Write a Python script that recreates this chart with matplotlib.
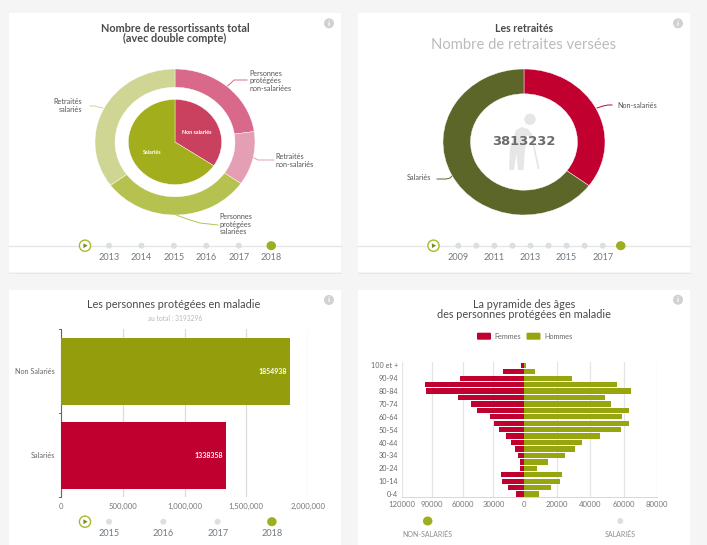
import matplotlib
matplotlib.use("Agg")
import matplotlib.pyplot as plt
from matplotlib.patches import Rectangle, Circle, FancyBboxPatch, Polygon, Ellipse

plt.rcParams['font.family'] = ['Lato', 'DejaVu Sans']

W, H = 707, 545

# donut "ressortissants"
outer_labels = ['Personnes\nprotégées\nnon-salariées', 'Retraités\nnon-salariés',
                'Personnes\nprotégées\nsalariées', 'Retraités\nsalariés']
outer_values = [22.7, 11.9, 30.3, 35.1]
outer_colors = ['#D8698A', '#E59FB5', '#B6C24F', '#CFD693']
inner_labels = ['Non salariés', 'Salariés']
inner_values = [34.4, 65.6]
inner_colors = ['#C9415F', '#A3AE1C']

# donut retraites
retraites_labels = ['Non-salariés', 'Salariés']
retraites_values = [1342000, 2471232]
retraites_colors = ['#C2002F', '#5C6628']
retraites_total = 3813232

# barres maladie
maladie_labels = ['Salariés', 'Non Salariés']
maladie_values = [1338358, 1854938]
maladie_colors = ['#C0002F', '#949E0C']
maladie_ticks = [0, 500000, 1000000, 1500000, 2000000]

# pyramide, du haut vers le bas
ages = ['100 et +', '95-99', '90-94', '85-89', '80-84', '75-79', '70-74', '65-69', '60-64',
        '55-59', '50-54', '45-49', '40-44', '35-39', '30-34', '25-29', '20-24', '15-19',
        '10-14', '5-9', '0-4']
femmes = [2900, 20300, 62800, 97100, 96100, 64400, 52000, 46400, 33000, 29800, 24500,
          17700, 12400, 9200, 5900, 3600, 3900, 22600, 21300, 15700, 8200]
hommes = [1000, 6600, 28700, 55800, 64800, 48900, 52500, 63600, 59200, 63200, 58600,
          46100, 34700, 30900, 24700, 14600, 7600, 23100, 21900, 16400, 8800]

years_1 = [2013, 2014, 2015, 2016, 2017, 2018]
years_2 = list(range(2009, 2019))
years_3 = [2015, 2016, 2017, 2018]

TEXT = '#4a4a4a'
GREY = '#8a8f94'
GREEN = '#9DAE1E'


def px_axes(fig, x0, y0, x1, y1):
    # axes placed with pixel coordinates, y going down
    return fig.add_axes([x0 / W, 1 - y1 / H, (x1 - x0) / W, (y1 - y0) / H])


def donut(ax, values, colors, radius, width=None):
    props = {'linewidth': 0.3, 'edgecolor': 'white'}
    if width:
        props['width'] = width
    ax.pie(values, colors=colors, radius=radius, startangle=90, counterclock=False,
           wedgeprops=props)
    ax.set_aspect('auto')
    ax.set_xlim(-1, 1)
    ax.set_ylim(-1, 1)


def timeline(bg, x_play, xs, y, labels, label_y, line=None):
    if line:
        bg.plot(line, [y, y], color='#e3e5e6', lw=0.9, zorder=2)
    bg.add_patch(Circle((x_play, y), 5.6, fc='white', ec='#a9ba2c', lw=1.0, zorder=3))
    bg.add_patch(Polygon([(x_play - 1.6, y - 2.4), (x_play - 1.6, y + 2.4), (x_play + 2.6, y)],
                         fc='#7d8a1a', ec='none', zorder=4))
    for i, x in enumerate(xs):
        last = i == len(xs) - 1
        bg.add_patch(Ellipse((x, y), 9.5 if last else 6, 9 if last else 6,
                             fc=GREEN if last else '#dcdfe0', ec='none', zorder=3))
    for x, lab in labels:
        bg.text(x, label_y, str(lab), ha='center', va='center', fontsize=6.6, color='#6f7a82', zorder=4)


def info(bg, x, y):
    bg.add_patch(Circle((x, y), 5, fc='#cfd1d2', ec='none', zorder=3))
    bg.text(x, y, 'i', ha='center', va='center', fontsize=6, fontweight='bold', color='white', zorder=4)


fig = plt.figure(figsize=(W / 100, H / 100), dpi=100, facecolor='#F5F5F5')

# couche de fond : cartes, titres, frises
bg = fig.add_axes([0, 0, 1, 1])
bg.set_xlim(0, W)
bg.set_ylim(H, 0)
bg.axis('off')

for x, y, w, h in [(9, 13, 332, 259), (358, 13, 332, 259), (9, 290, 332, 255), (358, 290, 332, 255)]:
    bg.add_patch(Rectangle((x, y), w, h, fc='white', ec='none', zorder=1))
bg.plot([9, 341], [272.5, 272.5], color='#e6e8e9', lw=0.7, zorder=1)
bg.plot([358, 690], [272.5, 272.5], color='#e6e8e9', lw=0.7, zorder=1)

for x, y in [(329, 23.3), (678, 23.3), (329, 300), (678, 299.7)]:
    info(bg, x, y)

# titres
bg.text(175, 28, 'Nombre de ressortissants total', ha='center', va='center', fontsize=7.8,
        fontweight='bold', color=TEXT, zorder=4)
bg.text(175, 38.3, '(avec double compte)', ha='center', va='center', fontsize=7.8,
        fontweight='bold', color=TEXT, zorder=4)
bg.text(524, 28, 'Les retraités', ha='center', va='center', fontsize=7.6, fontweight='bold', color=TEXT, zorder=4)
bg.text(524, 45, 'Nombre de retraites versées', ha='center', va='center', fontsize=10.6, color='#b9bcbd', zorder=4)
bg.text(174, 305, 'Les personnes protégées en maladie', ha='center', va='center', fontsize=7.8,
        color=TEXT, zorder=4)
bg.text(175, 318.7, 'au total : 3193296', ha='center', va='center', fontsize=4.8, color='#b5b8b9', zorder=4)
bg.text(524, 305, 'La pyramide des âges', ha='center', va='center', fontsize=7.8, color=TEXT, zorder=4)
bg.text(524, 314.5, 'des personnes protégées en maladie', ha='center', va='center', fontsize=7.8,
        color=TEXT, zorder=4)

# frises
timeline(bg, 85, [109 + i * 32.45 for i in range(6)], 245.7,
         [(109 + i * 32.45, y) for i, y in enumerate(years_1)], 257, line=(9, 341))
xs2 = [458.3 + i * 18.05 for i in range(10)]
timeline(bg, 433.5, xs2, 245.7, [(xs2[i], years_2[i]) for i in range(0, 9, 2)], 257, line=(358, 690))
xs3 = [109 + i * 54.3 for i in range(4)]
timeline(bg, 85, xs3, 521.7, list(zip(xs3, years_3)), 533)

# donut 1
ax1 = px_axes(fig, 95, 69, 255, 215)
donut(ax1, outer_values, outer_colors, 1, width=0.25)
donut(ax1, inner_values, inner_colors, 0.583)
ax1.text(0.27, 0.135, inner_labels[0], ha='center', va='center', fontsize=3.9, fontweight='bold', color='white')
ax1.text(-0.28, -0.14, inner_labels[1], ha='center', va='center', fontsize=3.9, fontweight='bold', color='white')

# etiquettes et traits du donut 1
label_pos = [(249, 81, 'left'), (275, 160.5, 'left'), (219.5, 224, 'left'), (82, 105.5, 'right')]
leaders = [([224, 231, 234, 247], [89, 83, 80, 80], '#D8698A'),
           ([252, 258, 262, 274], [157, 160, 160, 160], '#E59FB5'),
           ([176, 190, 200, 218], [215, 220, 223, 225], '#B6C24F'),
           ([90, 95, 98, 103], [106, 106, 107, 108], '#CFD693')]
for (x, y, ha), lab in zip(label_pos, outer_labels):
    bg.text(x, y, lab, ha=ha, va='center', fontsize=5.2, linespacing=1.05, color='#555', zorder=4)
for xs, ys, c in leaders:
    bg.plot(xs, ys, color=c, lw=0.7, zorder=2)

# donut 2
ax2 = px_axes(fig, 443, 69, 605, 215)
donut(ax2, retraites_values, retraites_colors, 1, width=0.34)
bg.plot([597, 603, 608, 612], [108, 106, 105, 105], color='#C2002F', lw=0.7, zorder=2)
bg.plot([437, 446, 450, 453], [179, 179, 178, 175], color='#5C6628', lw=0.7, zorder=2)
bg.text(617, 105, retraites_labels[0], ha='left', va='center', fontsize=5.2, color='#555', zorder=4)
bg.text(431, 178, retraites_labels[1], ha='right', va='center', fontsize=5.2, color='#555', zorder=4)

# personnage au centre du donut 2
ax2.set_zorder(1)
icon = '#e6e6e6'
ic = fig.add_axes([0, 0, 1, 1], zorder=2)
ic.set_xlim(0, W)
ic.set_ylim(H, 0)
ic.axis('off')
ic.patch.set_alpha(0)
ic.add_patch(Circle((530, 119.3), 5.7, fc=icon, ec='none'))
ic.add_patch(Polygon([(516, 130), (522, 127), (528, 129), (532, 134), (533, 139), (530, 139), (527, 135),
                     (525, 149), (523.5, 170), (518, 170), (516.5, 154), (514, 170), (509, 170), (510, 148)],
                     fc=icon, ec='none'))
ic.plot([532, 538.5], [138, 168], color=icon, lw=1.2)
ic.text(524, 141.5, f'{retraites_total}', ha='center', va='center', fontsize=9.4, fontweight='bold',
        family='DejaVu Sans', color='#6c6c6c')

# barres
ax3 = px_axes(fig, 60.7, 329.3, 308.3, 497.3)
ax3.set_zorder(1)
ax3.patch.set_alpha(0)
ax3.barh(maladie_labels, maladie_values, height=0.8, color=maladie_colors, zorder=3)
ax3.set_xlim(0, 2000000)
ax3.set_ylim(-0.5, 1.5)
ax3.grid(axis='x', color='#dadcdd', lw=0.9, zorder=0)
ax3.set_axisbelow(True)
for s in ['top', 'right', 'bottom']:
    ax3.spines[s].set_visible(False)
ax3.spines['left'].set_color('#666')
ax3.spines['left'].set_linewidth(0.8)
ax3.set_xticks(maladie_ticks, [f'{v:,}' for v in maladie_ticks])
ax3.tick_params(axis='x', length=0, labelsize=5.6, labelcolor='#777', pad=4)
ax3.tick_params(axis='y', length=0, labelsize=5.2, labelcolor='#666', pad=4)
for y in (-0.5, 0.5, 1.5):
    ax3.plot([0, -16000], [y, y], color='#666', lw=0.7, clip_on=False)
for i, v in enumerate(maladie_values):
    ax3.text(v - 30000, i, str(v), ha='right', va='center', fontsize=5, fontweight='bold', color='white', zorder=4)

# pyramide : deux demi-axes avec chacun son echelle
y_pos = list(range(len(ages)))
ax_l = px_axes(fig, 401.7, 362.1, 524, 497.3)
ax_r = px_axes(fig, 524, 362.1, 656.7, 497.3)
for ax in (ax_l, ax_r):
    ax.set_zorder(1)
    ax.patch.set_alpha(0)
    ax.set_ylim(len(ages) - 0.5, -0.5)
    ax.grid(axis='x', color='#e4e6e7', lw=0.9, zorder=0)
    ax.set_axisbelow(True)
    for s in ['top', 'right', 'left']:
        ax.spines[s].set_visible(False)
    ax.spines['bottom'].set_color('#d5d8da')
    ax.spines['bottom'].set_linewidth(0.7)
    ax.tick_params(axis='x', length=0, labelsize=5.6, labelcolor='#777', pad=2.5)

ax_l.barh(y_pos, femmes, height=0.82, color='#C0002F', zorder=3)
ax_l.set_xlim(120000, 0)
ax_l.set_xticks([120000, 90000, 60000, 30000, 0], ['120000', '90000', '60000', '30000', '0'])
ax_l.set_yticks(y_pos[::2], ages[::2])
ax_l.tick_params(axis='y', length=0, labelsize=5.2, labelcolor='#666', pad=2.5)

ax_r.barh(y_pos, hommes, height=0.82, color='#97A60F', zorder=3)
ax_r.set_xlim(0, 80000)
ax_r.set_xticks([20000, 40000, 60000, 80000], ['20000', '40000', '60000', '80000'])
ax_r.set_yticks([])

# legende de la pyramide
for x, c, lab, tx in [(477, '#C0002F', 'Femmes', 494.5), (526.5, '#97A60F', 'Hommes', 544.7)]:
    bg.add_patch(FancyBboxPatch((x + 1, 333.7), 12, 5, boxstyle='round,pad=1', fc=c, ec='none', zorder=3))
    bg.text(tx, 336.2, lab, ha='left', va='center', fontsize=5.2, color='#666', zorder=4)

# selecteur non-salaries / salaries
bg.add_patch(Ellipse((427.7, 521), 9.5, 9, fc=GREEN, ec='none', zorder=3))
bg.add_patch(Circle((620.3, 521), 3, fc='#dcdfe0', ec='none', zorder=3))
bg.text(427.7, 534.3, 'NON-SALARIÉS', ha='center', va='center', fontsize=5, color=GREY, zorder=4)
bg.text(620.3, 534.3, 'SALARIÉS', ha='center', va='center', fontsize=5, color=GREY, zorder=4)

fig.savefig('out.png', dpi=100, facecolor=fig.get_facecolor())
